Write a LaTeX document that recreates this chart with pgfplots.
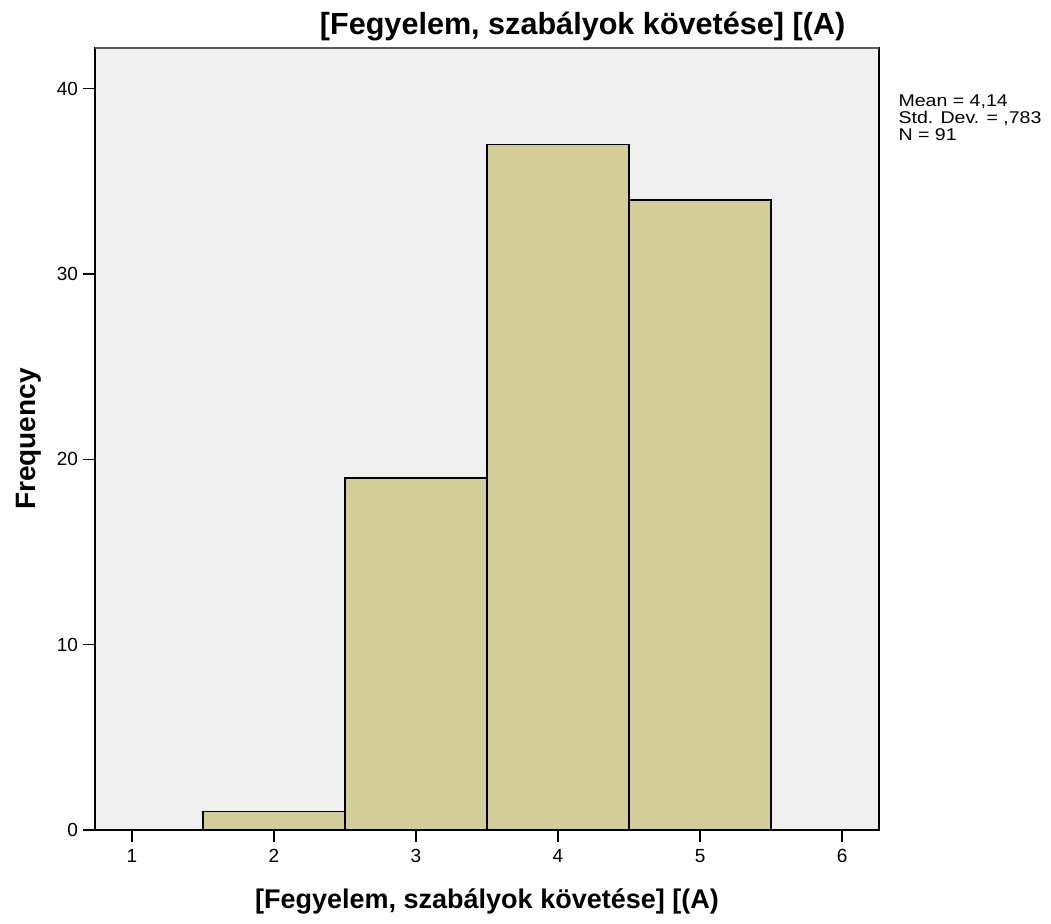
\documentclass[border=0pt]{standalone}
\usepackage{pgfplots}
\pgfplotsset{compat=1.18}
\usepackage{fontspec}
\setmainfont{Liberation Sans}
\definecolor{bg}{RGB}{240,240,240}
\definecolor{barfill}{RGB}{211,206,151}
\begin{document}
\begin{tikzpicture}
\begin{axis}[
  at={(0,0)}, anchor=south west,
  scale only axis,
  width=392pt, height=391pt,
  xmin=0.74, xmax=6.26, ymin=0, ymax=42.2,
  axis background/.style={fill=bg},
  axis line style={black, line width=0.6pt},
  xtick={1,2,3,4,5,6}, ytick={0,10,20,30,40},
  tick align=outside, xtick pos=bottom, ytick pos=left,
  major tick length=6pt,
  tick style={black, line width=0.6pt},
  ticklabel style={font=\fontsize{9.5}{10}\selectfont},
  yticklabel style={xshift=1pt},
  /pgf/number format/assume math mode=true,
  xlabel={[Fegyelem, szabályok követése] [(A)},
  ylabel={Frequency},
  xlabel style={font=\bfseries\fontsize{13.5}{15}\selectfont,
    at={(axis description cs:0.5,0)}, anchor=base, yshift=-39pt},
  ylabel style={font=\bfseries\fontsize{14}{16}\selectfont,
    at={(axis description cs:0,0.5)}, anchor=base, yshift=29.5pt},
  clip=false,
]
\addplot[ybar, bar width=1, fill=barfill, draw=black, line width=0.6pt] coordinates {
(2,1) (3,19) (4,37) (5,34)
};
\draw[gray!70!black, line width=1.2pt] (rel axis cs:0,1) -- (rel axis cs:1,1);
\node[font=\bfseries\fontsize{15.3}{17}\selectfont, anchor=base] at (rel axis cs:0.622,1) [yshift=6.5pt] {[Fegyelem, szabályok követése] [(A)};
\node[font=\fontsize{8.5}{10}\selectfont, xscale=1.15, anchor=base west, inner sep=0pt] at (axis cs:6.26,39.03) [xshift=8.3pt] {Mean = 4,14};
\node[font=\fontsize{8.5}{10}\selectfont, xscale=1.15, anchor=base west, inner sep=0pt] at (axis cs:6.26,38.11) [xshift=8.3pt] {Std. Dev. = ,783};
\node[font=\fontsize{8.5}{10}\selectfont, xscale=1.15, anchor=base west, inner sep=0pt] at (axis cs:6.26,37.19) [xshift=8.3pt] {N = 91};
\end{axis}
\path[use as bounding box] (-47.5pt,-46.5pt) rectangle (478pt,415pt);
\end{tikzpicture}
\end{document}
